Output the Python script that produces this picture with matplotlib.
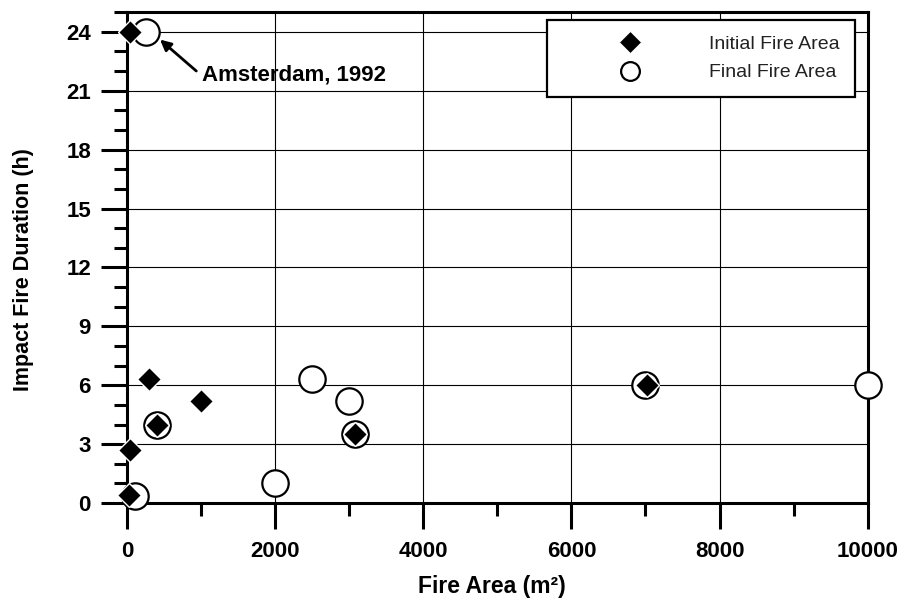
import numpy as np
import matplotlib
matplotlib.use('Agg')
import matplotlib.pyplot as plt
from matplotlib.ticker import MultipleLocator

plt.rcParams['font.family'] = ['Liberation Sans', 'DejaVu Sans']

# fire area (m2) vs duration (h)
init_area = [40, 300, 1000, 400, 40, 30, 3080, 7020]
init_dur = [24.0, 6.3, 5.2, 4.0, 2.7, 0.4, 3.5, 6.0]
final_area = [260, 400, 110, 2000, 2500, 3000, 3080, 7000, 10000]
final_dur = [24.0, 4.0, 0.35, 1.0, 6.3, 5.2, 3.5, 6.0, 6.0]

fig = plt.figure(figsize=(9.01, 6.04), dpi=100)
ax = fig.add_axes([0.141, 0.167, 0.822, 0.813])

ax.plot(final_area, final_dur, 'o', ms=19, mfc='white', mec='black', mew=1.6,
        ls='none', clip_on=False, zorder=3, label='Final Fire Area')
ax.plot(init_area, init_dur, 'D', ms=12.5, mfc='black', mec='white', mew=1.0,
        ls='none', clip_on=False, zorder=4, label='Initial Fire Area')

ax.set_xlim(0, 10000)
ax.set_ylim(0, 25)
ax.xaxis.set_major_locator(MultipleLocator(2000))
ax.xaxis.set_minor_locator(MultipleLocator(1000))
ax.yaxis.set_major_locator(MultipleLocator(3))
ax.yaxis.set_minor_locator(MultipleLocator(1))
ax.set_yticks(np.arange(0, 25, 3))

ax.grid(which='major', color='black', lw=0.8)
ax.set_axisbelow(True)
for s in ax.spines.values():
    s.set_linewidth(2.2)
ax.tick_params(which='major', direction='out', length=18.5, width=2.2, labelsize=16, pad=7.5)
ax.tick_params(which='minor', direction='out', length=9.5, width=2.2)
ax.tick_params(axis='x', which='major', pad=9)
for lab in ax.get_xticklabels() + ax.get_yticklabels():
    lab.set_fontweight('bold')

ax.set_xlabel('Fire Area (m\u00b2)', fontsize=16.5, fontweight='bold')
ax.set_ylabel('Impact Fire Duration (h)', fontsize=15.5, fontweight='bold')
ax.xaxis.set_label_coords(0.4926, -0.147)
ax.yaxis.set_label_coords(-0.125, 0.475)

# label the Amsterdam event
ax.annotate('', xy=(445, 23.6), xytext=(935, 22.0),
            arrowprops=dict(arrowstyle='-|>', color='black', lw=2, mutation_scale=16,
                            shrinkA=0, shrinkB=0))
ax.text(1010, 21.8, 'Amsterdam, 1992', fontsize=16, fontweight='bold',
        va='center', ha='left')

handles, labels = ax.get_legend_handles_labels()
leg = ax.legend(handles[::-1], labels[::-1], loc='upper left', bbox_to_anchor=(0.567, 0.984),
                borderaxespad=0, fontsize=14, handlelength=6.9,
                handletextpad=0.62, borderpad=0.8, labelspacing=0.55, fancybox=False,
                framealpha=1, edgecolor='black')
leg.get_frame().set_linewidth(1.6)
leg.legend_handles[0].set_markersize(11)
leg.legend_handles[0].set_markeredgewidth(0.6)
leg.legend_handles[1].set_markersize(13.5)
for t in leg.get_texts():
    t.set_color('#222222')

plt.savefig('out.png', dpi=100)
